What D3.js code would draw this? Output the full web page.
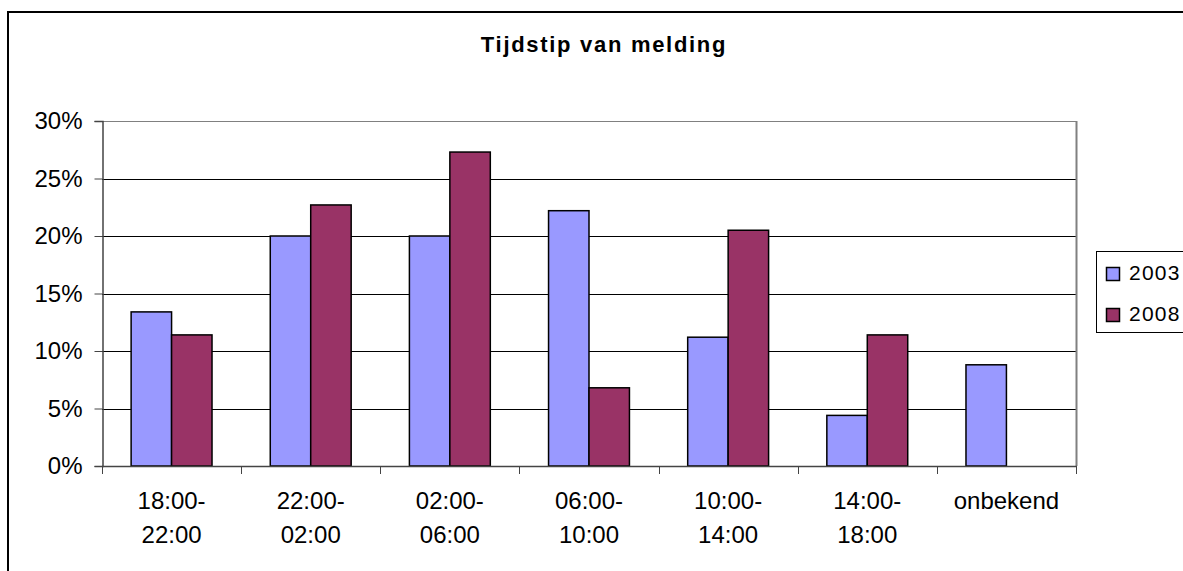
<!DOCTYPE html>
<html><head><meta charset="utf-8">
<script src="https://cdn.jsdelivr.net/npm/d3@7"></script>
<style>body{margin:0;background:#fff;overflow:hidden}text{font-family:Arial,"Liberation Sans",sans-serif}</style>
</head><body><svg id="c" width="1183" height="571"></svg>
<script>
const categories = [["18:00-","22:00"],["22:00-","02:00"],["02:00-","06:00"],["06:00-","10:00"],["10:00-","14:00"],["14:00-","18:00"],["onbekend"]];
const seriesNames = ["2003","2008"];
const values2003 = [13.4, 20.0, 20.0, 22.2, 11.2, 4.4, 8.8];
const values2008 = [11.4, 22.7, 27.3, 6.8, 20.5, 11.4, 0];
const yTicks = [0,5,10,15,20,25,30];
const colors = ["#9999FF","#993366"];
const title = "Tijdstip van melding";

const svg = d3.select("#c");
const L=102, R=1076, T=121, B=466;
svg.append("rect").attr("x",8).attr("y",12).attr("width",1300).attr("height",700)
  .attr("fill","#fff").attr("stroke","#000").attr("stroke-width",2);

svg.append("text").attr("x",604).attr("y",52).attr("text-anchor","middle")
  .attr("font-size",22).attr("font-weight","bold").attr("letter-spacing",1.7).text(title);

const x = d3.scaleBand().domain(d3.range(categories.length)).range([L,R]);
const xs = d3.scaleBand().domain(seriesNames).range([0,x.bandwidth()]).paddingOuter(0.72);
const y = d3.scaleLinear().domain([0,30]).range([B,T]);

// gridlines
svg.append("g").selectAll("line").data(yTicks.filter(t=>t>0)).join("line")
  .attr("x1",L).attr("x2",R).attr("y1",d=>Math.round(y(d))+0.5).attr("y2",d=>Math.round(y(d))+0.5)
  .attr("stroke",d=>d===30?"#808080":"#000").attr("stroke-width",1);
// right border of plot
svg.append("line").attr("x1",R+0.5).attr("x2",R+0.5).attr("y1",T).attr("y2",B).attr("stroke","#808080").attr("stroke-width",2);

// bars
const data = [];
categories.forEach((c,i)=>{ data.push({i,s:"2003",v:values2003[i],c:colors[0]}); if(values2008[i]>0) data.push({i,s:"2008",v:values2008[i],c:colors[1]}); });
svg.append("g").selectAll("rect").data(data).join("rect")
  .attr("x",d=>x(d.i)+xs(d.s)).attr("width",xs.bandwidth())
  .attr("y",d=>y(d.v)).attr("height",d=>B-y(d.v))
  .attr("fill",d=>d.c).attr("stroke","#000").attr("stroke-width",1.5);

// y axis
const ya = svg.append("g").attr("transform",`translate(${L+0.5},0)`)
  .call(d3.axisLeft(y).tickValues(yTicks).tickFormat(d=>d+"%").tickSize(8).tickPadding(12));
ya.select(".domain").attr("stroke","#444").attr("stroke-width",1.5);
ya.selectAll(".tick line").attr("stroke","#444");
ya.selectAll("text").attr("font-size",24).attr("fill","#000").attr("font-family","Arial, 'Liberation Sans', sans-serif");

// x axis
svg.append("line").attr("x1",L).attr("x2",R+1).attr("y1",B+0.5).attr("y2",B+0.5).attr("stroke","#444").attr("stroke-width",1.5);
svg.append("g").selectAll("line").data(d3.range(categories.length+1)).join("line")
  .attr("x1",d=>Math.round(L+d*x.step())+0.5).attr("x2",d=>Math.round(L+d*x.step())+0.5)
  .attr("y1",B).attr("y2",B+8).attr("stroke","#444");
const xl = svg.append("g").selectAll("text").data(categories).join("text")
  .attr("x",(d,i)=>x(i)+x.bandwidth()/2).attr("y",509).attr("text-anchor","middle").attr("font-size",24);
xl.selectAll("tspan").data(d=>d).join("tspan")
  .attr("x",function(){return this.parentNode.getAttribute("x");}).attr("dy",(d,j)=>j===0?0:34).text(d=>d);

// legend
const lg = svg.append("g");
lg.append("rect").attr("x",1096.5).attr("y",251.5).attr("width",200).attr("height",81)
  .attr("fill","#fff").attr("stroke","#000").attr("stroke-width",1);
seriesNames.forEach((s,k)=>{
  lg.append("rect").attr("x",1106.5).attr("y",267.5+k*41).attr("width",13).attr("height",13)
    .attr("fill",colors[k]).attr("stroke","#000").attr("stroke-width",1.5);
  lg.append("text").attr("x",1129).attr("y",280+k*41).attr("font-size",21).attr("letter-spacing",1.2).text(s);
});
</script></body></html>
